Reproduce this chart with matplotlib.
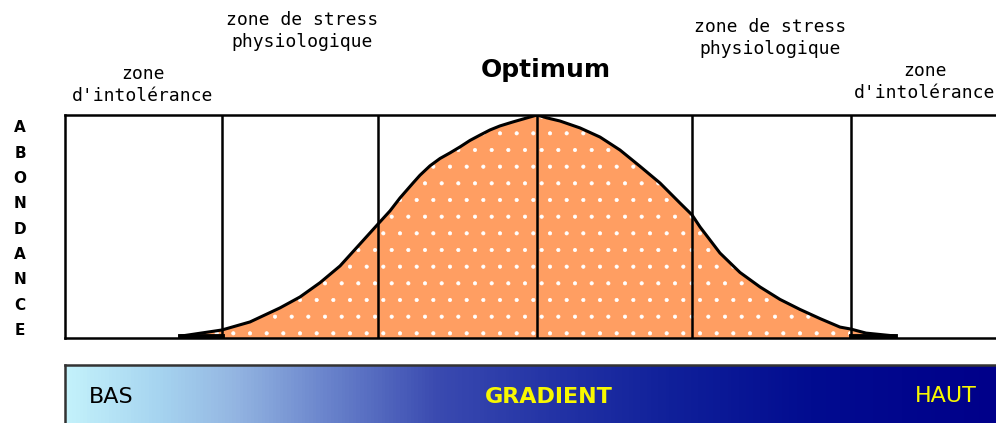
import matplotlib.pyplot as plt
import numpy as np
from matplotlib.colors import LinearSegmentedColormap

# position le long du gradient (0-100) et abondance (0-100)
curve_x = [12.35, 16.86, 19.87, 23.09, 25.24, 27.39, 29.54, 31.69, 33.62, 34.91,
           35.98, 37.38, 38.13, 39.20, 40.28, 41.35, 42.43, 43.50, 44.58, 45.65,
           46.72, 48.12, 49.62, 50.70, 51.77, 53.17, 55.32, 57.47, 59.61, 61.76,
           63.91, 66.06, 67.35, 68.21, 70.35, 72.50, 74.65, 76.80, 78.95, 81.10,
           83.24, 84.42, 86.04, 89.15]
curve_y = [0.8, 3.6, 7.2, 13.5, 18.4, 24.8, 32.3, 42.2, 51.1, 57.0,
           62.8, 69.5, 73.0, 77.2, 80.5, 83.0, 85.7, 88.6, 91.0, 93.3,
           95.1, 96.9, 98.7, 100.0, 98.7, 97.3, 94.2, 90.1, 84.3, 77.0,
           69.5, 60.5, 55.2, 49.8, 38.1, 29.4, 22.9, 17.3, 12.8, 8.7,
           4.9, 4.0, 2.2, 0.9]

zone_bounds = [16.86, 33.62, 50.70, 67.35, 84.43]

stress_label = "zone de stress\nphysiologique"
intol_label = "zone\nd'intolérance"
y_label = "ABONDANCE"

grad_stops = [(0.0, "#c4f2fb"), (0.10, "#a6d4f0"), (0.18, "#94b6e2"),
              (0.28, "#6a84cc"), (0.40, "#3a4ab0"), (0.52, "#2434a6"),
              (0.65, "#10209a"), (0.80, "#020c90"), (1.0, "#00008a")]

W, H = 996, 423
fig = plt.figure(figsize=(W / 100, H / 100), dpi=100)
plt.rcParams["hatch.linewidth"] = 0.5

# graphique principal
ax = fig.add_axes([65 / W, (H - 338) / H, (W - 65) / W, 223 / H])
ax.fill_between(curve_x, 0, curve_y, facecolor="#ff9e62", edgecolor="white",
                hatch=".", linewidth=0, zorder=1)
ax.plot(curve_x, curve_y, color="black", lw=2.2, zorder=3)
ax.plot([curve_x[0], zone_bounds[0]], [0.8, 0.8], color="black", lw=3.5, zorder=3)
ax.plot([zone_bounds[-1], curve_x[-1]], [0.9, 0.9], color="black", lw=3.5, zorder=3)
for b in zone_bounds:
    ax.axvline(b, color="black", lw=1.8, zorder=4)
ax.set_xlim(0, 100)
ax.set_ylim(0, 100)
ax.set_xticks([])
ax.set_yticks([])
for side in ["top", "left", "bottom"]:
    ax.spines[side].set_linewidth(1.8)
ax.spines["right"].set_visible(False)

# barre du gradient
gax = fig.add_axes([65 / W, -0.02, (W - 65) / W, (H - 365) / H + 0.02])
cmap = LinearSegmentedColormap.from_list("grad", grad_stops)
gax.imshow(np.linspace(0, 1, 256)[None, :], aspect="auto", cmap=cmap,
           extent=[0, 1, 0, 1])
gax.set_xticks([])
gax.set_yticks([])
gax.spines["right"].set_visible(False)
gax.spines["bottom"].set_visible(False)
gax.spines["top"].set_color("#333333")
gax.spines["left"].set_color("#333333")
gax.spines["top"].set_linewidth(1.8)
gax.spines["left"].set_linewidth(1.8)


def px(x, y):
    return x / W, 1 - y / H


mono = dict(family="DejaVu Sans Mono", fontsize=13, ha="center", va="center",
            linespacing=1.35)
fig.text(*px(143, 85), intol_label, **mono)
fig.text(*px(302, 31), stress_label, **mono)
fig.text(*px(770, 38), stress_label, **mono)
fig.text(*px(925, 82), intol_label, **mono)
fig.text(*px(546, 70), "Optimum", fontsize=18, fontweight="bold",
         ha="center", va="center")

for i, ch in enumerate(y_label):
    fig.text(*px(20, 128 + i * 25.3), ch, fontsize=11, fontweight="bold",
             ha="center", va="center")

fig.text(*px(111, 397), "BAS", fontsize=16, color="black", ha="center", va="center")
fig.text(*px(549, 397), "GRADIENT", fontsize=16, fontweight="bold",
         color="#f8f800", ha="center", va="center")
fig.text(*px(946, 396), "HAUT", fontsize=16, color="#f8f800", ha="center", va="center")

fig.savefig("out.png", dpi=100)
